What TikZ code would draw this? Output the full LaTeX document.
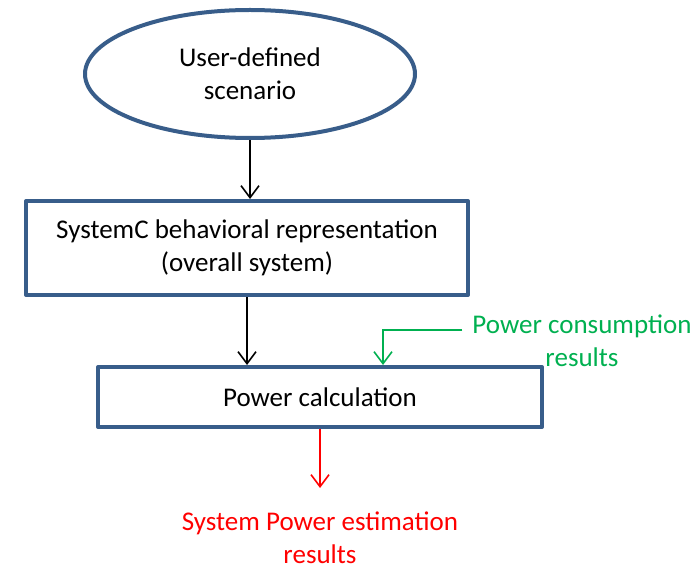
\documentclass[tikz,border=0pt]{standalone}
\usepackage{fontspec}
\setmainfont{Carlito}
\usepackage{tikz}
\usetikzlibrary{arrows.meta}
\usetikzlibrary{shapes.geometric, calc}
\definecolor{bordbleu}{RGB}{56,93,138}
\definecolor{vertres}{RGB}{0,176,80}
\definecolor{rougeres}{RGB}{255,0,0}

\begin{document}
\begin{tikzpicture}[x=1pt, y=-1pt,
        bloc/.style={draw=bordbleu, line width=4pt, line join=round, inner sep=0pt},
        texte/.style={font=\fontsize{27}{33}\selectfont, align=center, inner sep=1pt},
        fleche/.style={line width=1.6pt, -{Straight Barb[length=12pt, width=18pt]}}]
        % Cadre de la figure
        \useasboundingbox (0,0) rectangle (695,569);

        % Scenario
        \node[bloc, texte, ellipse, minimum width=330pt, minimum height=128pt] (scenario) at (250,74) {User-defined\\scenario};

        % Blocs
        \node[bloc, texte, minimum width=442pt, minimum height=94pt] (systemc) at (247,248) {SystemC behavioral representation\\(overall system)};
        \node[bloc, texte, minimum width=444pt, minimum height=60pt] (calcul) at (320,397) {Power calculation};

        % Textes de sortie
        \node[texte, text=vertres] (conso) at (582,341) {Power consumption\\results};
        \node[texte, text=rougeres] (estim) at (320,538) {System Power estimation\\results};

        % Fleches
        \draw[fleche] (scenario.south) -- (scenario.south |- systemc.north);
        \draw[fleche] (systemc.south) -- (systemc.south |- calcul.north);
        \coordinate (coude) at (383,330);
        \draw[fleche, vertres, shorten <=9pt] (conso.west |- coude) -- (coude) -- (coude |- calcul.north);
        \coordinate (bout) at (320,488);
        \draw[fleche, rougeres] (calcul.south) -- (bout);
    \end{tikzpicture}
\end{document}
